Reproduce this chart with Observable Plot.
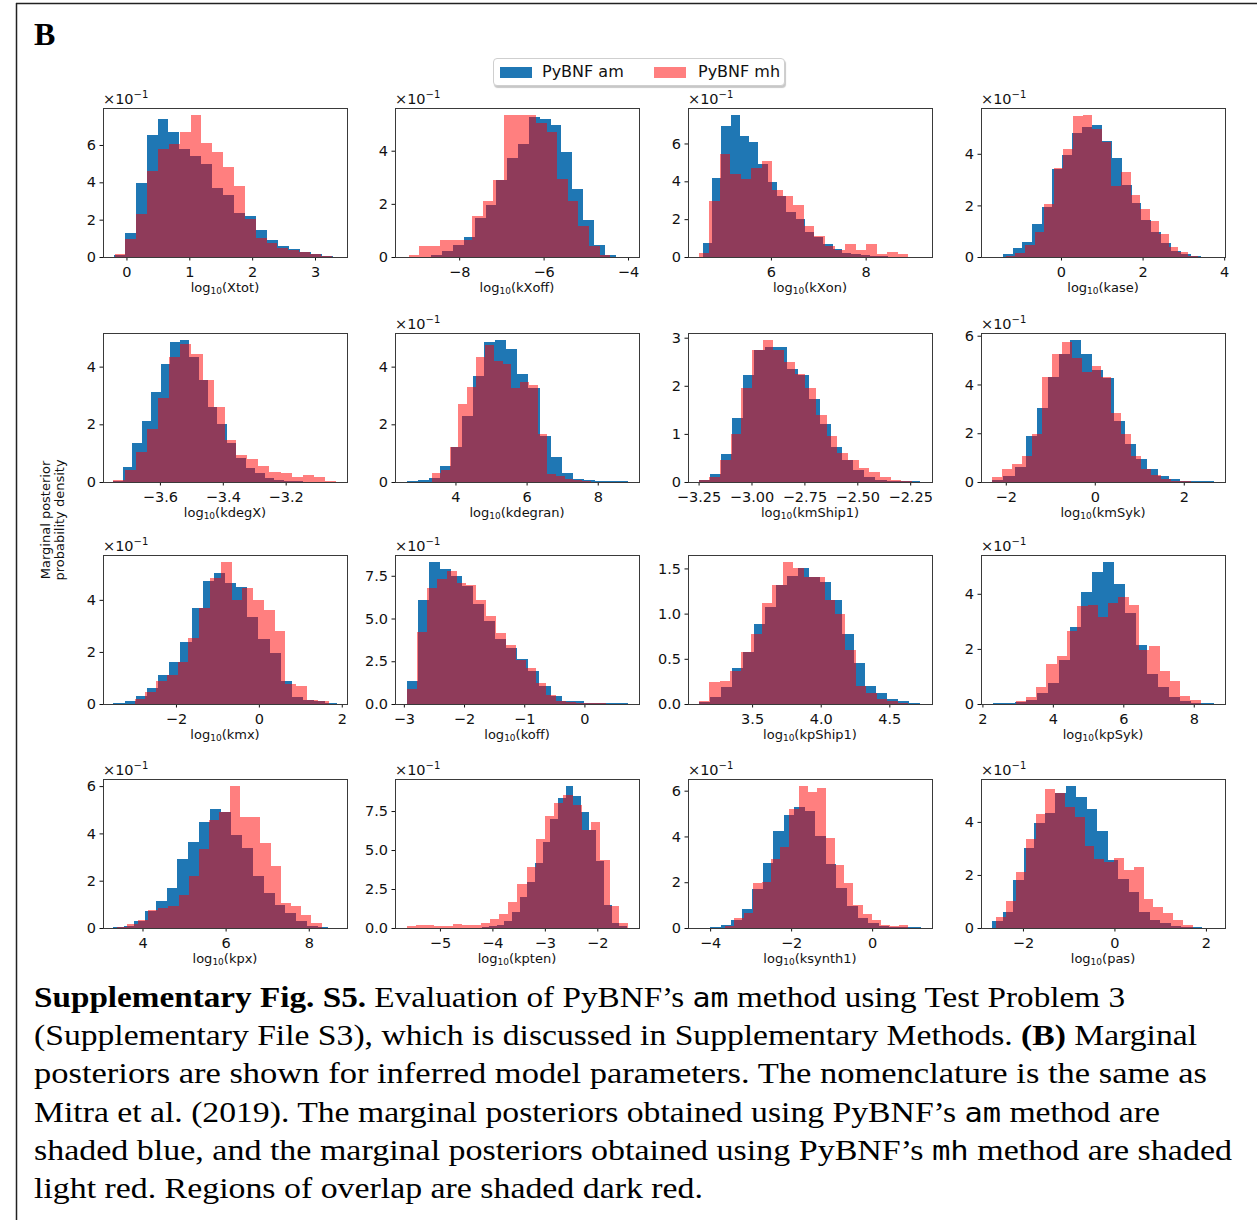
<!DOCTYPE html>
<html><head><meta charset="utf-8">
<script src="https://cdn.jsdelivr.net/npm/d3@7"></script>
<script src="https://cdn.jsdelivr.net/npm/@observablehq/plot@0.6"></script>
<style>
body{margin:0;background:#fff;}
#page{position:relative;width:1257px;height:1220px;overflow:hidden;font-family:"DejaVu Sans",sans-serif;background:#fff;}
.pbox{position:absolute;}
.off{position:absolute;font-size:14.5px;line-height:1;white-space:nowrap;color:#111;}
.off sup{font-size:10px;vertical-align:0;position:relative;top:-6px;}
.xl{position:absolute;font-size:13px;line-height:1;white-space:nowrap;transform:translateX(-50%);color:#111;}
.xl sub{font-size:9px;vertical-align:0;position:relative;top:2px;}
#legend{position:absolute;left:493px;top:58px;width:290px;height:26px;border:1px solid #cfcfcf;border-radius:4px;box-shadow:1px 2px 1px rgba(0,0,0,0.22);background:#fff;font-size:16px;color:#111;}
#legend .sw{position:absolute;top:8px;width:32px;height:11px;}
#legend .lt{position:absolute;top:4px;line-height:1.1;white-space:nowrap;}
#overlay{position:absolute;left:0;top:0;}
.cap{font-family:"Liberation Serif","Times New Roman",serif;font-size:30px;fill:#000;}
.mono{font-family:"DejaVu Sans Mono",monospace;font-size:27px;}
</style></head><body><div id="page"></div><script>
// ---- data (heights; panels with an "x10^-1" offset store the displayed axis value) ----
const params = ["Xtot","kXoff","kXon","kase","kdegX","kdegran","kmShip1","kmSyk","kmx","koff","kpShip1","kpSyk","kpx","kpten","ksynth1","pas"];
const xDomains = [[-0.373,3.509],[-9.52,-3.74],[4.25,9.40],[-1.96,4.02],[-3.781,-3.005],[2.30,9.16],[-3.30,-2.147],[-2.557,2.927],[-3.76,2.126],[-3.147,0.907],[3.033,4.811],[1.96,8.887],[3.05,8.92],[-5.857,-1.205],[-4.546,1.478],[-2.917,2.417]];
const xTicks = [[0,1,2,3],[-8,-6,-4],[6,8],[0,2,4],[-3.6,-3.4,-3.2],[4,6,8],[-3.25,-3,-2.75,-2.5,-2.25],[-2,0,2],[-2,0,2],[-3,-2,-1,0],[3.5,4,4.5],[2,4,6,8],[4,6,8],[-5,-4,-3,-2],[-4,-2,0],[-2,0,2]];
const xDecimals = [0,0,0,0,1,0,2,0,0,0,1,0,0,0,0,0];
const yTicks = [[0,2,4,6],[0,2,4],[0,2,4,6],[0,2,4],[0,2,4],[0,2,4],[0,1,2,3],[0,2,4,6],[0,2,4],[0,2.5,5,7.5],[0,0.5,1,1.5],[0,2,4],[0,2,4,6],[0,2.5,5,7.5],[0,2,4,6],[0,2,4]];
const yDecimals = [0,0,0,0,0,0,0,0,0,1,1,0,0,1,0,0];
const yExponent = [-1,-1,-1,-1,0,-1,0,-1,-1,-1,0,-1,-1,-1,-1,-1];

const amStart = [-0.201,-8.66,4.56,-1.43,-3.748,2.632,-3.25,-2.30,-3.507,-2.951,3.111,2.292,3.284,-4.353,-4.0,-2.667];
const amWidth = [0.174,0.257,0.196,0.243,0.0301,0.311,0.05225,0.2485,0.269,0.1837,0.0806,0.3135,0.2595,0.1458,0.26,0.229];
const amHeights = [
 [0.13,1.3,3.98,6.54,7.37,6.68,5.77,5.42,4.97,3.71,3.30,2.38,2.2,1.44,0.92,0.58,0.45,0.27,0.15,0.03],
 [0.09,0.24,0.44,0.76,1.48,1.95,2.9,3.72,4.24,5.25,5.2,4.96,3.95,2.55,1.38,0.44,0.09],
 [0.75,4.2,6.9,7.5,6.4,6.1,4.9,3.95,3.2,2.4,2.0,1.3,1.05,0.68,0.41,0.2,0.15,0.1,0.05,0.03],
 [0.1,0.33,0.6,1.27,1.95,3.4,3.95,4.8,5.05,5.1,4.5,3.85,2.78,2.1,1.45,0.95,0.55,0.25,0.12,0.05],
 [0.05,0.52,1.35,2.1,3.12,4.1,4.85,4.92,4.35,3.55,2.6,2.0,1.35,0.82,0.5,0.3,0.15,0.08,0.05,0.03],
 [0.03,0.07,0.15,0.56,1.2,2.3,3.68,4.85,4.92,4.6,3.75,3.25,1.6,0.85,0.3,0.12,0.06,0.03,0.03,0.03],
 [0.05,0.17,0.58,1.33,2.22,2.75,2.8,2.81,2.35,2.23,1.73,1.2,0.72,0.45,0.25,0.1,0.05,0.02,0.03,0.03],
 [0.08,0.25,0.6,1.88,3.05,4.3,5.25,5.82,5.25,4.6,4.25,2.5,1.55,0.95,0.55,0.25,0.12,0.06,0.04,0.03],
 [0.05,0.1,0.3,0.6,1.1,1.6,2.4,3.7,4.72,5.05,4.65,4.5,3.35,2.5,1.95,0.9,0.25,0.15,0.1,0.05],
 [1.37,6.1,8.3,7.9,7.5,6.9,5.85,4.85,3.8,3.3,2.65,1.95,1.05,0.45,0.2,0.15,0.08,0.05,0.05,0.04],
 [0.02,0.08,0.19,0.4,0.58,0.88,1.07,1.32,1.42,1.5,1.4,1.35,1.15,0.77,0.45,0.2,0.12,0.06,0.03,0.01],
 [0.03,0.03,0.08,0.15,0.4,0.75,1.6,2.8,4.05,4.8,5.15,4.35,3.3,2.15,1.1,0.6,0.25,0.12,0.05,0.03],
 [0.05,0.1,0.3,0.7,1.15,1.7,2.9,3.65,4.5,5.05,4.9,3.95,3.4,2.2,1.5,0.98,0.65,0.3,0.08,0.03],
 [0.03,0.05,0.1,0.2,0.45,1.0,2.0,2.97,4.15,5.5,7.0,8.35,9.1,8.45,7.45,6.3,4.3,1.5,0.3,0.1],
 [0.05,0.12,0.35,0.85,1.7,2.85,4.25,4.95,5.3,5.1,4.0,2.8,1.75,0.95,0.45,0.2,0.1,0.05,0.05,0.05],
 [0.25,0.6,1.8,3.0,3.95,4.35,5.1,5.35,4.95,4.5,3.65,2.55,1.85,1.35,0.6,0.3,0.2,0.08,0.05,0.03]
];
const mhStart = [-0.189,-9.2,4.48,-1.35,-3.748,3.337,-3.25,-2.30,-3.0,-2.951,3.111,2.94,3.391,-5.632,-3.624,-2.583];
const mhWidth = [0.1728,0.2515,0.221,0.235,0.03546,0.2487,0.05045,0.2228,0.26,0.1653,0.0764,0.292,0.246,0.1757,0.2259,0.2146];
const mhHeights = [
 [0.15,0.95,2.30,4.60,5.80,6.05,6.68,7.60,6.09,5.60,4.83,3.78,2.02,1.0,0.75,0.5,0.35,0.25,0.15,0.05],
 [0.09,0.42,0.42,0.65,0.65,0.65,1.55,2.1,2.9,5.34,5.34,5.34,5.05,4.7,2.93,2.1,1.16,0.4,0.09],
 [0.2,2.95,5.45,4.4,4.1,4.7,5.1,3.55,3.25,2.75,1.65,1.1,0.6,0.38,0.68,0.38,0.68,0.18,0.27,0.15],
 [0.05,0.15,0.45,0.95,2.07,3.44,4.2,5.45,5.5,4.95,4.45,2.75,3.3,2.4,1.87,1.4,0.9,0.4,0.2,0.05],
 [0.08,0.4,1.05,1.85,2.9,4.35,4.8,4.45,3.55,2.6,1.45,0.95,0.8,0.55,0.33,0.3,0.18,0.23,0.18,0.05],
 [0.3,0.4,1.2,2.7,3.3,4.35,4.75,4.2,4.08,3.25,3.45,3.35,1.65,0.28,0.2,0.12,0.06,0.04],
 [0.04,0.1,0.45,1.0,1.95,2.75,2.95,2.75,2.5,2.25,1.95,1.4,0.95,0.6,0.45,0.3,0.2,0.1,0.05,0.02],
 [0.2,0.55,0.75,1.08,1.95,4.3,5.25,5.75,5.1,4.5,4.75,4.32,2.85,1.95,1.05,0.55,0.28,0.12,0.06,0.03],
 [0.2,0.45,0.9,1.1,1.6,2.55,3.7,4.85,5.45,4.0,4.45,4.0,3.6,2.8,0.75,0.7,0.15,0.1],
 [0.85,4.2,6.8,7.3,7.8,7.1,6.95,6.1,5.15,4.15,3.45,2.6,2.1,1.2,0.5,0.2,0.12,0.08,0.05,0.03],
 [0.03,0.24,0.25,0.36,0.58,0.77,1.12,1.32,1.57,1.5,1.4,1.4,1.15,1.0,0.6,0.2,0.12,0.05,0.03,0.01],
 [0.1,0.25,0.6,1.45,1.75,2.65,3.55,3.6,3.15,3.65,3.88,3.6,1.95,2.1,1.2,0.85,0.3,0.15],
 [0.05,0.15,0.35,0.78,0.85,0.95,1.4,2.2,3.35,4.55,4.9,6.0,4.7,4.68,3.6,2.63,1.05,0.95,0.55,0.2],
 [0.1,0.2,0.2,0.15,0.15,0.25,0.2,0.2,0.35,0.6,0.9,1.65,2.8,3.9,5.7,7.2,8.0,8.5,7.9,6.3,6.8,4.35,1.4,0.3],
 [0.1,0.45,0.65,1.95,2.0,3.0,3.56,5.2,6.2,5.95,6.1,3.95,2.75,1.95,1.0,0.6,0.35,0.12,0.1,0.12],
 [0.4,1.0,2.1,3.35,4.3,5.25,5.1,4.55,4.2,3.1,2.6,2.5,2.65,2.2,2.3,1.1,0.8,0.55,0.3,0.1]
];
const seriesNames = ["PyBNF am","PyBNF mh"];
const seriesColors = ["#1f77b4","#ff0000"];

// ---- layout ----
const page = document.getElementById("page");
const FL = [103,395,688,981], FT = [108,333,555,779], FW = 244, FH = 149;
const ML = 45, MR = 16, MT = 12, MB = 26;
const fmt = (d, dec) => (d < 0 ? "\u2212" : "") + Math.abs(d).toFixed(dec);

function bins(start, width, heights) {
  return heights.map((h, k) => ({x1: start + k*width, x2: start + (k+1)*width, h}));
}

params.forEach((name, i) => {
  const col = i % 4, row = Math.floor(i / 4);
  const am = bins(amStart[i], amWidth[i], amHeights[i]);
  const mh = bins(mhStart[i], mhWidth[i], mhHeights[i]);
  const ymax = d3.max([...amHeights[i], ...mhHeights[i]]) * 1.05;
  const chart = Plot.plot({
    width: FW + ML + MR, height: FH + MT + MB,
    marginLeft: ML, marginRight: MR, marginTop: MT, marginBottom: MB,
    style: {background: "transparent", fontFamily: "DejaVu Sans", fontSize: "14.5px", color: "#111", overflow: "visible"},
    x: {domain: xDomains[i], ticks: xTicks[i], tickFormat: d => fmt(d, xDecimals[i]), tickSize: 3.5, tickPadding: 5.5, label: null},
    y: {domain: [0, ymax], ticks: yTicks[i], tickFormat: d => fmt(d, yDecimals[i]), tickSize: 3.5, tickPadding: 4, label: null},
    marks: [
      Plot.rect(am, {x1: "x1", x2: "x2", y1: 0, y2: "h", fill: seriesColors[0], shapeRendering: "crispEdges"}),
      Plot.rect(mh, {x1: "x1", x2: "x2", y1: 0, y2: "h", fill: seriesColors[1], fillOpacity: 0.5, shapeRendering: "crispEdges"}),
      Plot.frame({stroke: "#3a3a3a", strokeWidth: 1})
    ]
  });
  const box = document.createElement("div");
  box.className = "pbox";
  box.style.left = (FL[col] - ML) + "px";
  box.style.top = (FT[row] - MT) + "px";
  box.style.width = (FW + ML + MR) + "px";
  box.appendChild(chart);
  page.appendChild(box);

  if (yExponent[i] !== 0) {
    const off = document.createElement("div");
    off.className = "off";
    off.style.left = FL[col] + "px";
    off.style.top = (FT[row] - 16) + "px";
    off.innerHTML = "\u00d710<sup>\u2212" + Math.abs(yExponent[i]) + "</sup>";
    page.appendChild(off);
  }
  const xl = document.createElement("div");
  xl.className = "xl";
  xl.style.left = (FL[col] + FW/2) + "px";
  xl.style.top = (FT[row] + FH + 24) + "px";
  xl.innerHTML = "log<sub>10</sub>(" + name + ")";
  page.appendChild(xl);
});

// legend
const leg = document.createElement("div");
leg.id = "legend";
leg.innerHTML =
  `<div class="sw" style="left:6px;background:${seriesColors[0]}"></div><div class="lt" style="left:48px">${seriesNames[0]}</div>` +
  `<div class="sw" style="left:160px;background:${seriesColors[1]};opacity:0.5"></div><div class="lt" style="left:204px">${seriesNames[1]}</div>`;
page.appendChild(leg);

// overlay: panel letter, border, shared y label, caption
const NS = "http://www.w3.org/2000/svg";
const svg = document.createElementNS(NS, "svg");
svg.setAttribute("id", "overlay");
svg.setAttribute("width", 1257);
svg.setAttribute("height", 1220);
svg.innerHTML = `
<line x1="16" y1="3.5" x2="1257" y2="3.5" stroke="#222" stroke-width="1.5"/>
<line x1="16.5" y1="3" x2="16.5" y2="1220" stroke="#222" stroke-width="1.5"/>
<text x="34" y="45" style="font-family:'Liberation Serif',serif;font-weight:bold;font-size:32px" fill="#000">B</text>
<g font-family="DejaVu Sans" font-size="13" fill="#111" text-anchor="middle">
<text transform="translate(50,520) rotate(-90)">Marginal posterior</text>
<text transform="translate(64,520) rotate(-90)">probability density</text>
</g>
<g class="cap">
<text x="34" y="1007" textLength="1091" lengthAdjust="spacingAndGlyphs"><tspan font-weight="bold">Supplementary Fig. S5.</tspan> Evaluation of PyBNF’s <tspan class="mono">am</tspan> method using Test Problem 3</text>
<text x="34" y="1045.2" textLength="1163" lengthAdjust="spacingAndGlyphs">(Supplementary File S3), which is discussed in Supplementary Methods. <tspan font-weight="bold">(B)</tspan> Marginal</text>
<text x="34" y="1083.4" textLength="1173" lengthAdjust="spacingAndGlyphs">posteriors are shown for inferred model parameters. The nomenclature is the same as</text>
<text x="34" y="1121.6" textLength="1126" lengthAdjust="spacingAndGlyphs">Mitra et al. (2019). The marginal posteriors obtained using PyBNF’s <tspan class="mono">am</tspan> method are</text>
<text x="34" y="1159.8" textLength="1198" lengthAdjust="spacingAndGlyphs">shaded blue, and the marginal posteriors obtained using PyBNF’s <tspan class="mono">mh</tspan> method are shaded</text>
<text x="34" y="1198" textLength="669" lengthAdjust="spacingAndGlyphs">light red. Regions of overlap are shaded dark red.</text>
</g>`;
page.insertBefore(svg, page.firstChild);
</script></body></html>
